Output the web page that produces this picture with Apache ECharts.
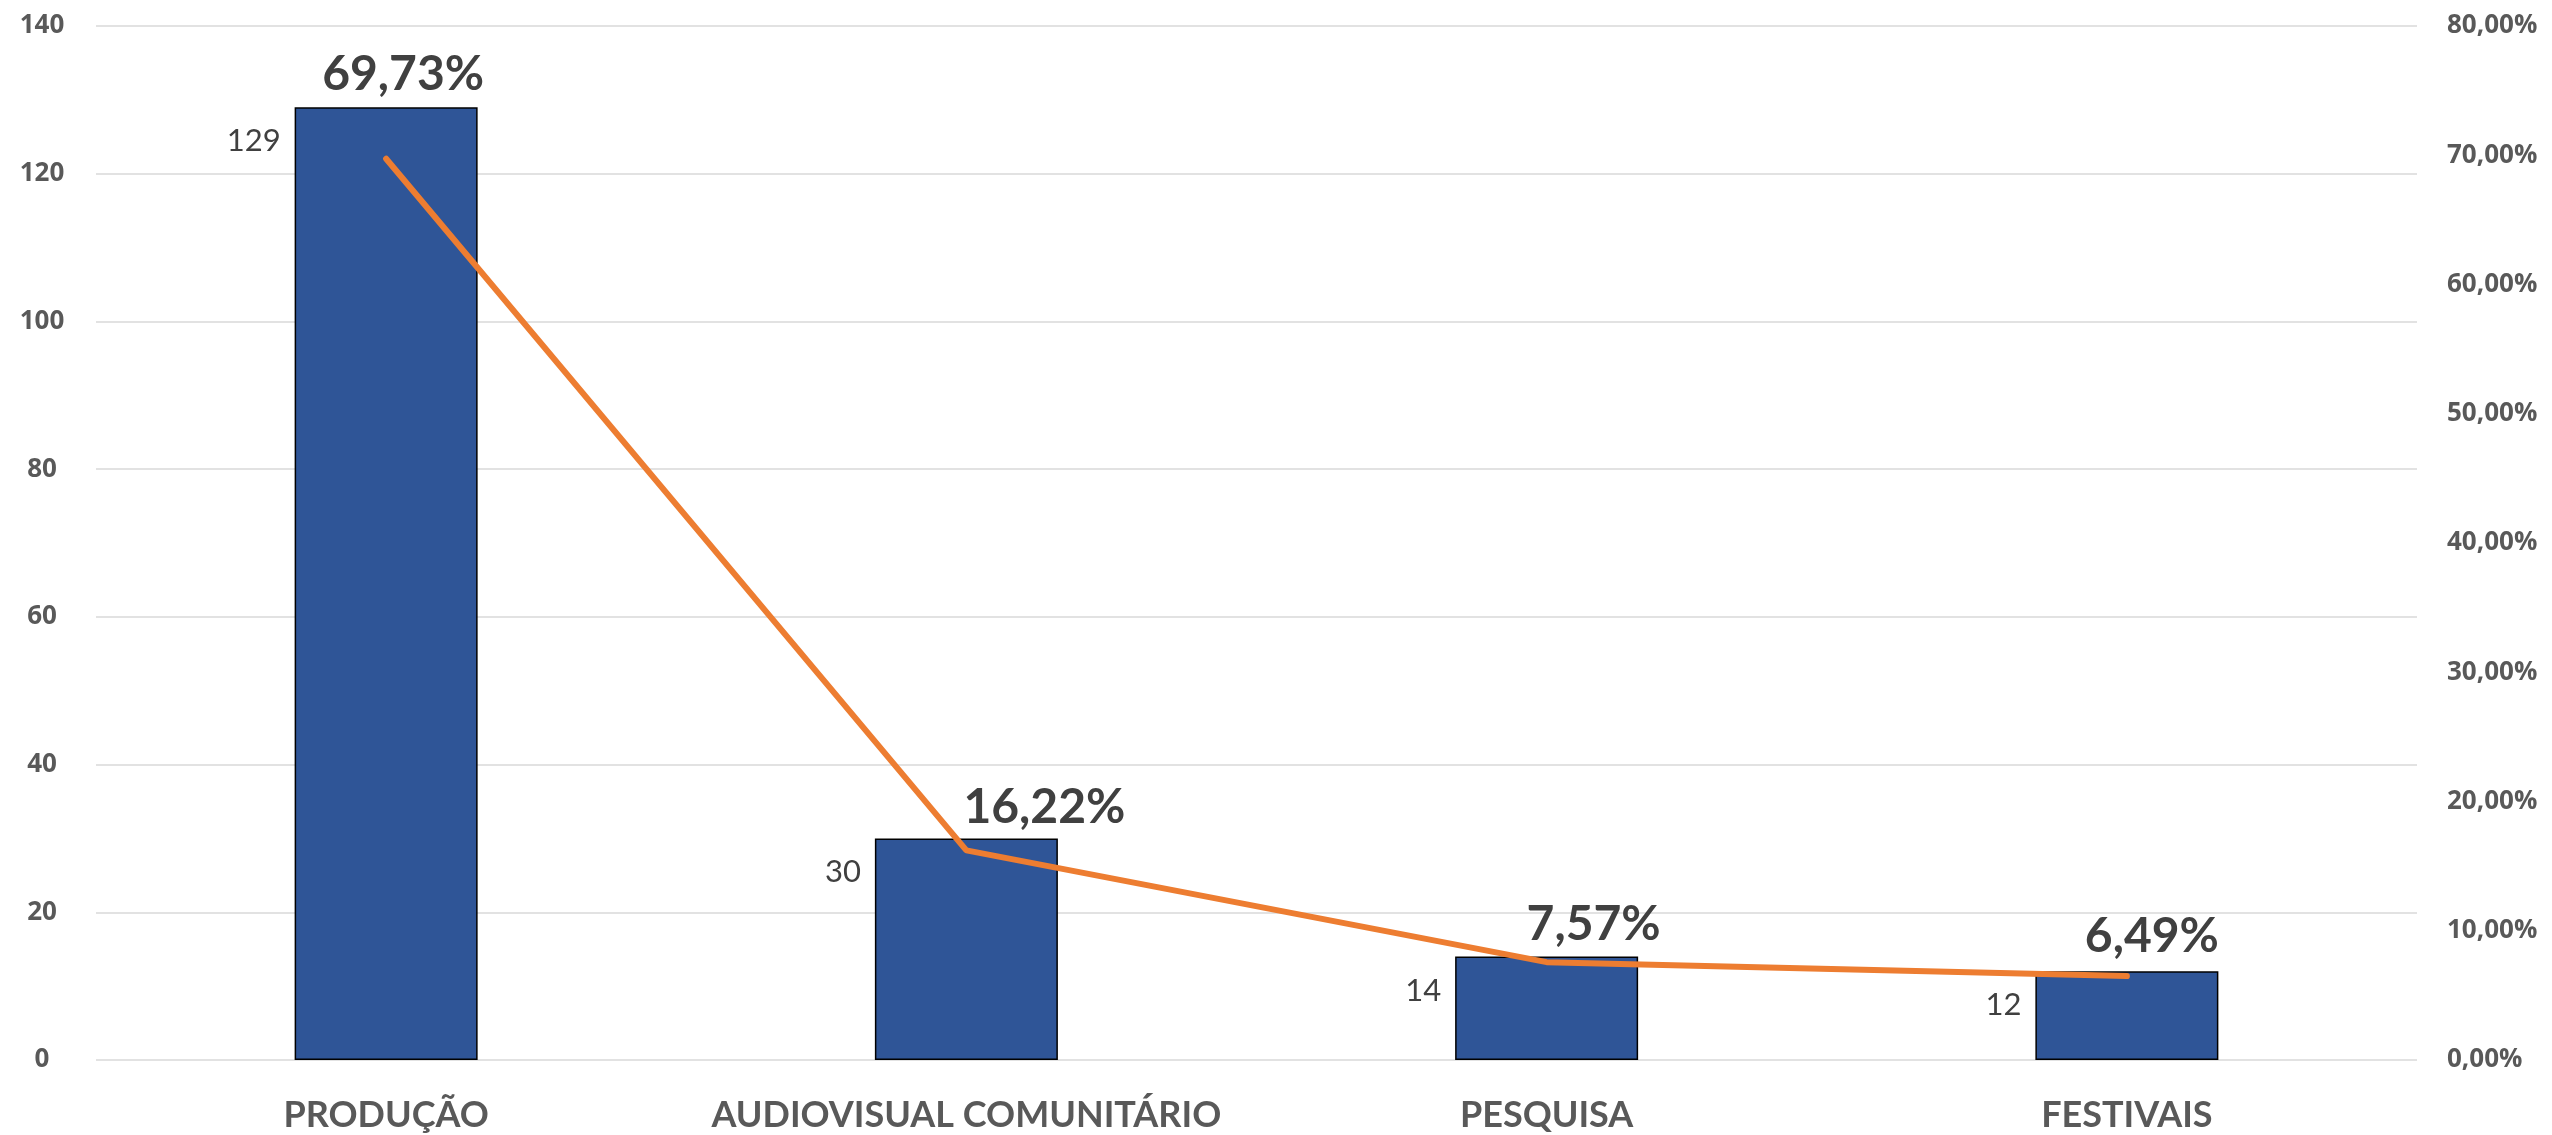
<!DOCTYPE html>
<html>
<head>
<meta charset="utf-8">
<script src="https://cdn.jsdelivr.net/npm/echarts@6/dist/echarts.min.js"></script>
<style>
html,body{margin:0;padding:0;background:#fff;}
#chart{width:2552px;height:1135px;}
</style>
</head>
<body>
<div id="chart"></div>
<script>
const categories = ['PRODUÇÃO', 'AUDIOVISUAL COMUNITÁRIO', 'PESQUISA', 'FESTIVAIS'];
const counts = [129, 30, 14, 12];
const percents = [69.73, 16.22, 7.57, 6.49];
const leftTicks = [0, 140, 20];
const rightTicks = [0, 80, 10];
const pctLabelOffsets = [[17, -84], [78, -43], [47, -38], [25, -40]];

const FONT = 'Lato, "Open Sans", "Liberation Sans", sans-serif';
const TICKFONT = '"Open Sans", Lato, sans-serif';
const fmtPct = v => v.toFixed(2).replace('.', ',') + '%';

const chart = echarts.init(document.getElementById('chart'));
chart.setOption({
  backgroundColor: '#ffffff',
  animation: false,
  grid: { left: 96, right: 135, top: 26, bottom: 75, containLabel: false },
  xAxis: {
    type: 'category',
    data: categories,
    axisTick: { show: false },
    axisLine: { show: false },
    axisLabel: { color: '#595959', fontSize: 36, fontWeight: 'bold', fontFamily: FONT, margin: 37, interval: 0 }
  },
  yAxis: [
    {
      type: 'value', min: leftTicks[0], max: leftTicks[1], interval: leftTicks[2],
      axisLine: { show: false }, axisTick: { show: false },
      splitLine: { lineStyle: { color: '#D9D9D9', width: 1.5 } },
      axisLabel: { color: '#595959', fontSize: 26, fontWeight: 'bold', fontFamily: TICKFONT, align: 'center', margin: 54 }
    },
    {
      type: 'value', min: rightTicks[0], max: rightTicks[1], interval: rightTicks[2],
      position: 'right',
      axisLine: { show: false }, axisTick: { show: false },
      splitLine: { show: false },
      axisLabel: { color: '#595959', fontSize: 26, fontWeight: 'bold', fontFamily: TICKFONT, align: 'left', margin: 30, formatter: fmtPct }
    }
  ],
  series: [
    {
      type: 'bar',
      data: counts,
      barWidth: 183,
      itemStyle: { color: '#2F5597', borderColor: '#000000', borderWidth: 1.5 },
      label: {
        show: true, position: [-14, 34], align: 'right', verticalAlign: 'middle',
        color: '#404040', fontSize: 31, fontFamily: FONT
      }
    },
    {
      type: 'line',
      yAxisIndex: 1,
      data: percents.map((v, i) => ({ value: v, label: { offset: pctLabelOffsets[i] } })),
      symbol: 'circle',
      symbolSize: 0.1,
      lineStyle: { color: '#ED7D31', width: 6, cap: 'round' },
      itemStyle: { color: '#ED7D31' },
      label: {
        show: true, position: 'inside', color: '#404040', fontSize: 48, fontWeight: 'bold', fontFamily: FONT,
        formatter: p => fmtPct(p.value)
      }
    }
  ]
});
</script>
</body>
</html>
